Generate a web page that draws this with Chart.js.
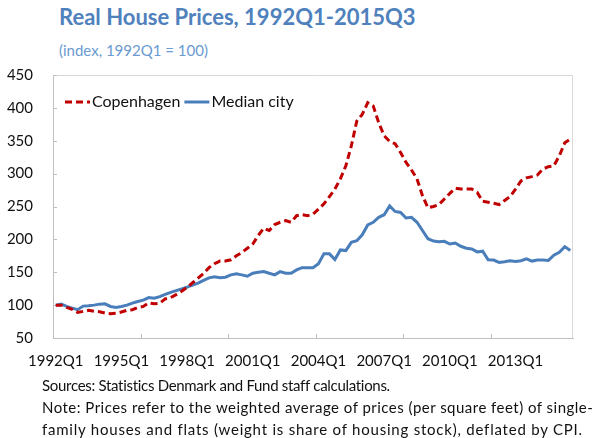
<!DOCTYPE html>
<html>
<head>
<meta charset="utf-8">
<script src="https://cdn.jsdelivr.net/npm/chart.js@4"></script>
<style>
  body { margin: 0; background: #fff; }
  #wrap { position: relative; width: 595px; height: 438px; overflow: hidden; font-family: Lato, sans-serif; }
  #title { position: absolute; left: 59px; top: 3px; font-size: 22px; font-weight: bold; color: #4F81BD; white-space: nowrap; }
  #sub { position: absolute; left: 59px; top: 41px; font-size: 15px; color: #6A9AD0; white-space: nowrap; }
  #chart { position: absolute; left: 0; top: 54px; }
  #notes { position: absolute; left: 42px; top: 374px; font-size: 15px; line-height: 22px; color: #111; white-space: nowrap; }
  #notes div { height: 22px; }
</style>
</head>
<body>
<div id="wrap">
  <div id="title">Real House Prices, 1992Q1-2015Q3</div>
  <div id="sub">(index, 1992Q1 = 100)</div>
  <canvas id="chart" width="595" height="321"></canvas>
  <div id="notes">
    <div style="letter-spacing:-0.3px">Sources: Statistics Denmark and Fund staff calculations.</div>
    <div style="letter-spacing:0.48px">Note: Prices refer to the weighted average of prices (per square feet) of single-</div>
    <div style="letter-spacing:0.78px">family houses and flats (weight is share of housing stock), deflated by CPI.</div>
  </div>
</div>
<script>
// quarters 1992Q1 .. 2015Q3
var quarters = [];
for (var y = 1992; y <= 2015; y++) {
    for (var q = 1; q <= 4; q++) {
        if (y === 2015 && q > 3) break;
        quarters.push(y + 'Q' + q);
    }
}

var copenhagen = [
    100, 100, 96.5, 93.5, 89, 90.5, 92, 90.5, 90, 88, 87, 87.5,
    89.5, 92, 93, 96.5, 98, 103.5, 102, 103, 109.5, 111.5, 116, 121,
    127, 134, 141, 148, 157, 163, 167, 167,
    169, 175, 180, 186.5, 193, 206, 217, 213.5, 222.5, 226, 228.5, 226,
    236, 237.5, 236, 238.5, 246, 254, 265, 276.5, 292, 312, 342, 380,
    390, 408, 403, 377.5, 357.5, 349, 345.5, 332,
    317, 305.5, 292, 266.5, 248, 250, 253, 261.5, 270, 278, 276.5, 276.5,
    276.5, 271.5, 258, 256.5, 255, 253, 259, 265, 276.5, 289, 293.5, 295.5,
    298, 307, 310.5, 312, 327, 347, 352.5
];

var medianCity = [
    100, 101.5, 98, 95.5, 93, 98.5, 99, 100, 101.5, 102, 98, 96.5,
    98, 100, 103, 105.5, 107.5, 111.5, 110.5, 113, 116.5, 119.5, 122, 124.5,
    127.5, 130.5, 133.5, 137.5, 141.5, 143, 141.5, 142.5,
    146, 147.5, 146, 144, 148.5, 150, 151, 148.5, 146, 151, 148.5, 148.5,
    153.5, 157, 157, 157, 163, 178, 178, 169.5, 184, 183, 195.5, 198,
    207, 222, 226, 233.5, 237.5, 251, 242.5, 241,
    232.5, 233.5, 226, 213.5, 201, 197.5, 196.5, 197, 193, 194.5, 189.5, 186.5,
    185.5, 181, 182, 169, 168.5, 165, 166, 167.5, 166.5, 167.5, 170.5, 167,
    168.5, 168.5, 168, 176, 180.5, 189, 183
];

var yTicks = [50, 100, 150, 200, 250, 300, 350, 400, 450];
var labelEvery = 12;   // x labels every 3 years
var markEvery = 16;    // tick marks on the x axis

var axisGray = '#BFBFBF';

var decorations = {
    id: 'decorations',
    beforeDatasetsDraw: function (chart) {
        var c = chart.ctx, a = chart.chartArea;
        var xs = chart.scales.x, ys = chart.scales.y;
        c.save();
        c.lineWidth = 1;
        // top and right of the frame
        c.strokeStyle = '#D9D9D9';
        c.beginPath();
        c.moveTo(a.left, a.top + 0.5);
        c.lineTo(a.right - 0.5, a.top + 0.5);
        c.lineTo(a.right - 0.5, a.bottom);
        c.stroke();
        // inward tick marks
        c.strokeStyle = axisGray;
        c.beginPath();
        yTicks.forEach(function (v) {
            var py = Math.round(ys.getPixelForValue(v)) + 0.5;
            c.moveTo(a.left, py);
            c.lineTo(a.left + 4, py);
        });
        for (var i = markEvery; i < quarters.length; i += markEvery) {
            var px = Math.round(xs.getPixelForValue(i - 0.5)) + 0.5;
            c.moveTo(px, a.bottom);
            c.lineTo(px, a.bottom - 4);
        }
        c.stroke();
        c.restore();
    },
    afterDraw: function (chart) {
        var c = chart.ctx, a = chart.chartArea;
        var x = 65, y = a.top + 27;
        c.save();
        c.font = '16px Lato, sans-serif';
        c.textBaseline = 'middle';
        chart.data.datasets.forEach(function (ds) {
            c.strokeStyle = ds.borderColor;
            c.lineWidth = ds.borderWidth;
            c.setLineDash(ds.borderDash || []);
            c.beginPath();
            c.moveTo(x, y);
            c.lineTo(x + 25, y);
            c.stroke();
            c.setLineDash([]);
            c.fillStyle = '#111';
            c.fillText(ds.label, x + 27, y);
            x += 27 + c.measureText(ds.label).width + 4;
        });
        c.restore();
    }
};

var ctx = document.getElementById('chart').getContext('2d');
var myChart = new Chart(ctx, {
    type: 'line',
    data: {
        labels: quarters,
        datasets: [{
                label: 'Copenhagen',
                data: copenhagen,
                borderColor: '#C00000',
                borderWidth: 3,
                borderDash: [7, 4],
                pointRadius: 0,
                tension: 0,
                fill: false
            }, {
                label: 'Median city',
                data: medianCity,
                borderColor: '#4A7EBB',
                borderWidth: 3,
                pointRadius: 0,
                tension: 0,
                fill: false
            }]
    },
    options: {
        responsive: false,
        animation: false,
        layout: {
            padding: { top: 1, right: 22, left: 0, bottom: 0 }
        },
        scales: {
            x: {
                offset: true,
                grid: { display: false },
                border: { color: axisGray },
                afterFit: function (s) { s.height = 37; },
                ticks: {
                    autoSkip: false,
                    maxRotation: 0,
                    padding: 6,
                    color: '#111',
                    font: { family: 'Lato', size: 15 },
                    callback: function (v, i) {
                        return i % labelEvery === 0 ? quarters[i] : '';
                    }
                }
            },
            y: {
                min: 50,
                max: 450,
                grid: { display: false },
                border: { color: axisGray },
                afterFit: function (s) { s.width = 53; },
                afterBuildTicks: function (s) {
                    s.ticks = yTicks.map(function (v) { return { value: v }; });
                },
                ticks: {
                    padding: 12,
                    color: '#111',
                    font: { family: 'Lato', size: 15 }
                }
            }
        },
        plugins: {
            legend: { display: 0 },
            tooltip: { enabled: false }
        }
    },
    plugins: [decorations]
});
</script>
</body>
</html>
